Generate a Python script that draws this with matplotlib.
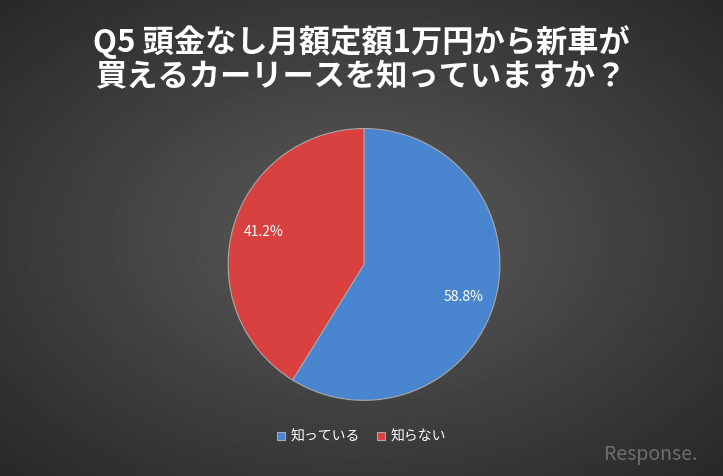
import numpy as np
import matplotlib
matplotlib.use("Agg")
import matplotlib.pyplot as plt

plt.rcParams["font.family"] = ["Noto Sans CJK JP", "DejaVu Sans"]

labels = ["知っている", "知らない"]
values = [58.8, 41.2]
colors = ["#4a86d0", "#d94040"]
title = "Q5 頭金なし月額定額1万円から新車が\n買えるカーリースを知っていますか？"

fig = plt.figure(figsize=(7.23, 4.76), dpi=100)

# radial gradient background
bg = fig.add_axes([0, 0, 1, 1])
yy, xx = np.mgrid[-1:1:300j, -1:1:450j]
r = np.sqrt(xx**2 + yy**2)
bg.imshow(0.36 - 0.2 * np.clip(r / 1.4, 0, 1), cmap="gray", vmin=0, vmax=1,
          aspect="auto", extent=[0, 1, 0, 1])
bg.axis("off")

ax = fig.add_axes([364 / 723 - 0.188, 0.159, 0.376, 0.571])
wedges, texts = ax.pie(values, colors=colors, startangle=90, counterclock=False,
                       wedgeprops=dict(edgecolor="#a8a8a8", linewidth=0.8))
ax.set_xlim(-1, 1)
ax.set_ylim(-1, 1)
ax.text(0.735, -0.24, f"{values[0]}%", color="white", fontsize=10, ha="center", va="center")
ax.text(-0.74, 0.235, f"{values[1]}%", color="white", fontsize=10, ha="center", va="center")

fig.text(0.5, 0.876, title, color="white", fontsize=22.5, fontweight="bold",
         ha="center", va="center", linespacing=1.1)

leg = fig.legend(wedges, labels, loc="center", bbox_to_anchor=(0.5, 0.082), ncol=2,
                 frameon=False, fontsize=10, handlelength=0.6, handleheight=0.6,
                 columnspacing=1.2, handletextpad=0.4)
for t in leg.get_texts():
    t.set_color("white")

fig.text(0.9, 0.045, "Response.", color="#888888", fontsize=14, style="italic",
         ha="center", va="center", alpha=0.7)

fig.savefig("out.png", dpi=100)
